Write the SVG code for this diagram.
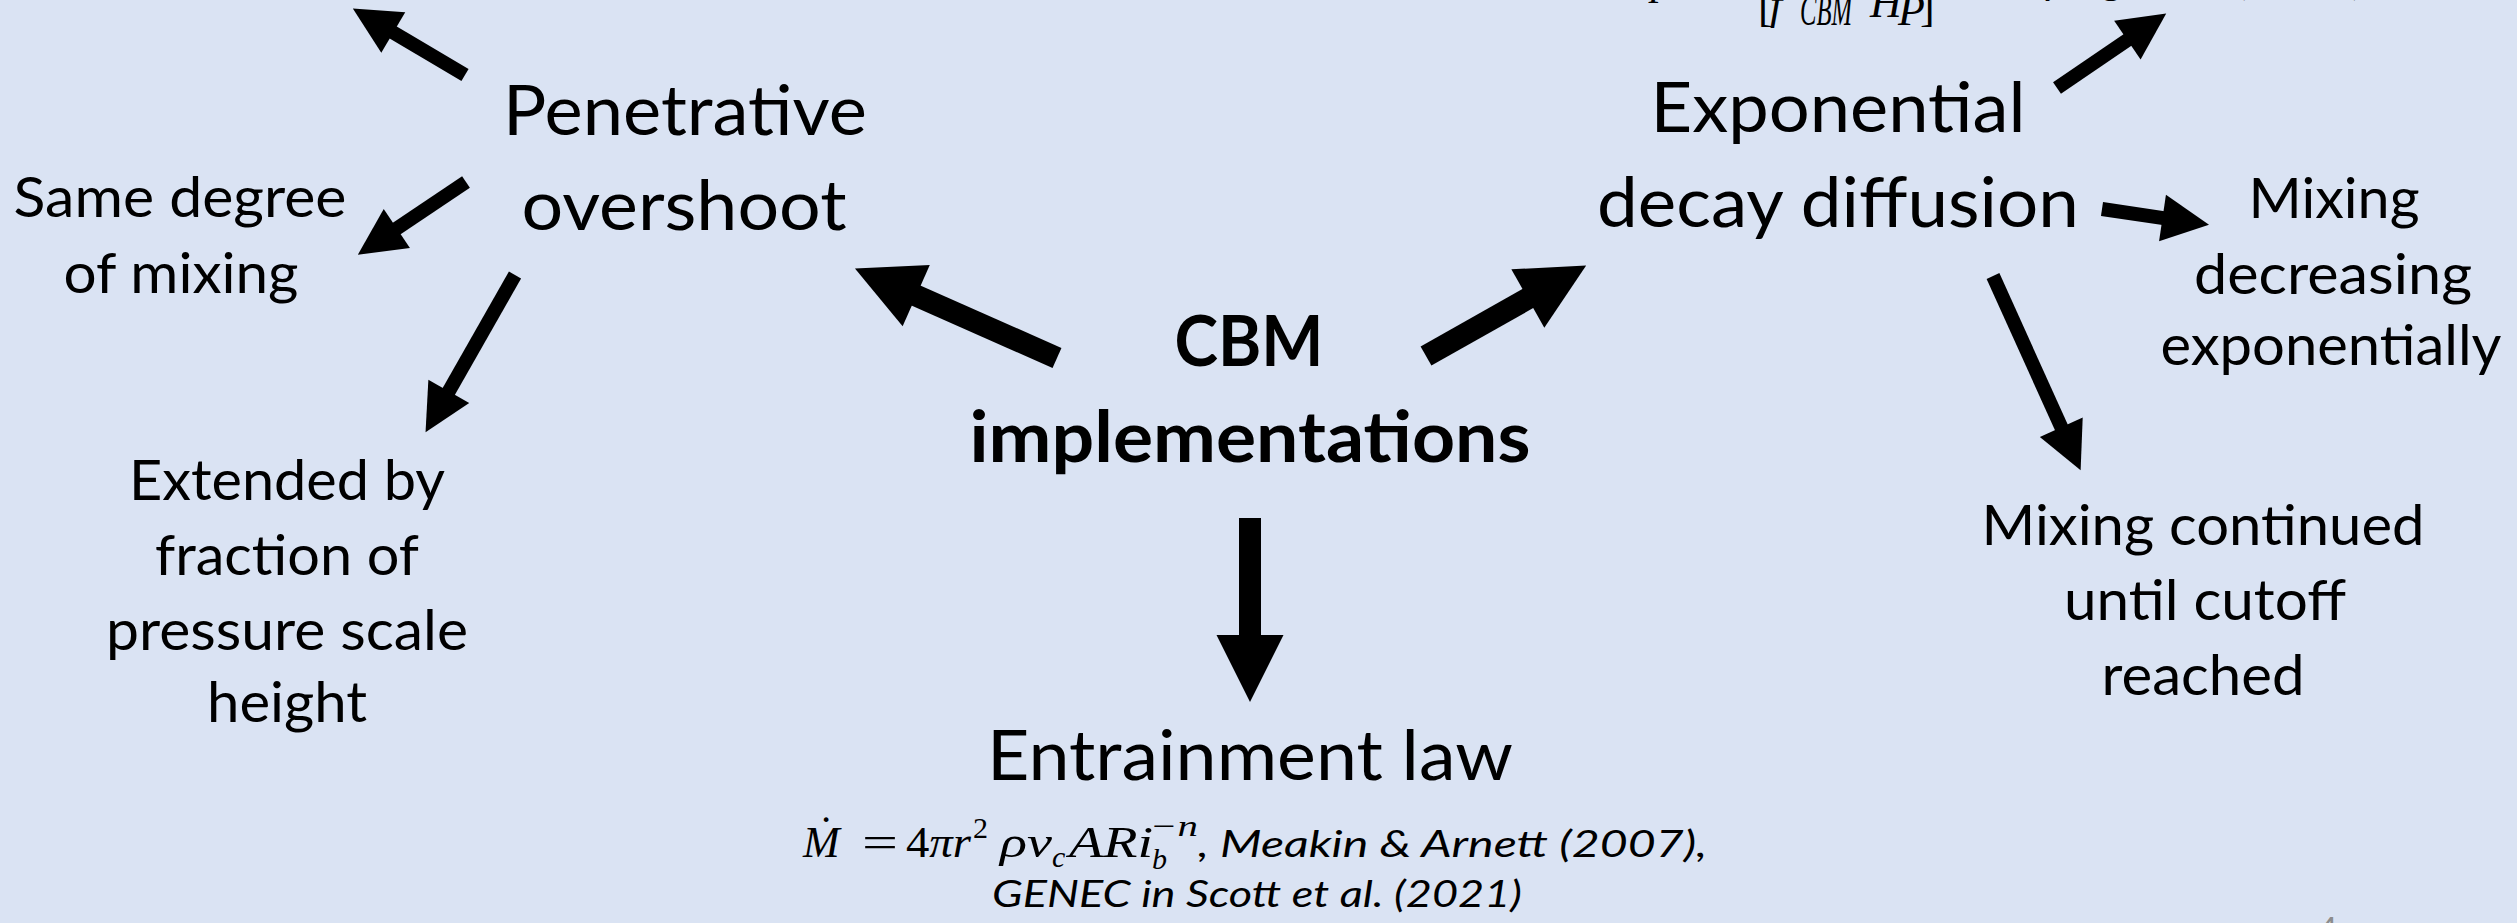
<svg xmlns="http://www.w3.org/2000/svg" width="2517" height="923" viewBox="0 0 2517 923">
<style>
  .big { font-family: Lato, "Open Sans", sans-serif; font-size: 70px; fill: #000; text-anchor: middle; }
  .bold { font-family: Lato, "Open Sans", sans-serif; font-size: 70px; font-weight: bold; fill: #000; text-anchor: middle; }
  .small { font-family: Lato, "Open Sans", sans-serif; font-size: 56px; fill: #000; text-anchor: middle; }
  .ref { font-family: Lato, "Open Sans", sans-serif; font-size: 37px; font-style: italic; fill: #000; }
  .math { font-family: "Liberation Serif", "DejaVu Serif", serif; font-size: 44px; fill: #000; }
  .mi { font-style: italic; }
  .sm { font-size: 30px; }
  .conn-s { stroke: #000; stroke-width: 14; fill: none; marker-end: url(#hs); }
  .conn-b { stroke: #000; stroke-width: 22; fill: none; marker-end: url(#hb); }
</style>
<defs>
  <marker id="hs" markerUnits="userSpaceOnUse" markerWidth="50" markerHeight="50" refX="1" refY="23.5" orient="auto" overflow="visible">
    <path d="M0,0 L47,23.5 L0,47 Z" fill="#000"/>
  </marker>
  <marker id="hb" markerUnits="userSpaceOnUse" markerWidth="70" markerHeight="70" refX="1" refY="33.5" orient="auto" overflow="visible">
    <path d="M0,0 L67,33.5 L0,67 Z" fill="#000"/>
  </marker>
</defs>
<rect x="0" y="0" width="2517" height="923" fill="#DAE3F3"/>

<g id="connectors">
  <line class="conn-s" x1="465" y1="75" x2="392.4" y2="32"/>
  <line class="conn-s" x1="466" y1="182" x2="396" y2="229"/>
  <line class="conn-s" x1="515" y1="275" x2="448.3" y2="392.2"/>
  <line class="conn-b" x1="1057" y1="358" x2="915.3" y2="295.2"/>
  <line class="conn-b" x1="1426" y1="356" x2="1528.7" y2="298"/>
  <line class="conn-b" x1="1250" y1="518" x2="1250" y2="636"/>
  <line class="conn-s" x1="2057" y1="88" x2="2128.2" y2="39.5"/>
  <line class="conn-s" x1="2102" y1="209" x2="2163.5" y2="218.1"/>
  <line class="conn-s" x1="1993" y1="276" x2="2061.7" y2="428.2"/>
</g>

<g id="top-formula">
  <text class="math mi" x="1612" y="-6" font-size="40">exp</text>
  <text class="math" x="1722" y="-6" font-size="40">[</text>
  <text class="ref" x="1985" y="-5" textLength="380" lengthAdjust="spacingAndGlyphs">Freytag et al. (1996)</text>
  <text class="math" x="1758" y="21" font-size="30">[</text>
  <text class="math mi" x="1770" y="19" font-size="28">f</text>
  <text class="math mi" x="1800" y="25" font-size="22" textLength="52" lengthAdjust="spacingAndGlyphs">CBM</text>
  <text class="math mi" x="1870" y="17" font-size="24">H</text>
  <text class="math mi" x="1898" y="25" font-size="22">P</text>
  <text class="math" x="1920" y="21" font-size="30">]</text>
</g>

<g id="node-cbm">
  <text class="bold" x="1249" y="366" textLength="149" lengthAdjust="spacingAndGlyphs">CBM</text>
  <text class="bold" x="1250" y="462" textLength="561" lengthAdjust="spacingAndGlyphs">implementations</text>
</g>

<g id="node-penetrative">
  <text class="big" x="685" y="135" textLength="364" lengthAdjust="spacingAndGlyphs">Penetrative</text>
  <text class="big" x="684" y="230" textLength="325" lengthAdjust="spacingAndGlyphs">overshoot</text>
</g>

<g id="node-same-degree">
  <text class="small" x="180" y="217" textLength="333" lengthAdjust="spacingAndGlyphs">Same degree</text>
  <text class="small" x="181" y="293" textLength="235" lengthAdjust="spacingAndGlyphs">of mixing</text>
</g>

<g id="node-extended">
  <text class="small" x="287" y="500" textLength="316" lengthAdjust="spacingAndGlyphs">Extended by</text>
  <text class="small" x="287" y="575" textLength="264" lengthAdjust="spacingAndGlyphs">fraction of</text>
  <text class="small" x="287" y="650" textLength="362" lengthAdjust="spacingAndGlyphs">pressure scale</text>
  <text class="small" x="287" y="722" textLength="160" lengthAdjust="spacingAndGlyphs">height</text>
</g>

<g id="node-exponential">
  <text class="big" x="1838" y="132" textLength="375" lengthAdjust="spacingAndGlyphs">Exponential</text>
  <text class="big" x="1838" y="227" textLength="482" lengthAdjust="spacingAndGlyphs">decay diffusion</text>
</g>

<g id="node-mixing-decreasing">
  <text class="small" x="2334" y="218" textLength="171" lengthAdjust="spacingAndGlyphs">Mixing</text>
  <text class="small" x="2333" y="294" textLength="278" lengthAdjust="spacingAndGlyphs">decreasing</text>
  <text class="small" x="2331" y="365" textLength="341" lengthAdjust="spacingAndGlyphs">exponentially</text>
</g>

<g id="node-mixing-continued">
  <text class="small" x="2203" y="545" textLength="443" lengthAdjust="spacingAndGlyphs">Mixing continued</text>
  <text class="small" x="2205" y="620" textLength="282" lengthAdjust="spacingAndGlyphs">until cutoff</text>
  <text class="small" x="2203" y="695" textLength="203" lengthAdjust="spacingAndGlyphs">reached</text>
</g>

<g id="node-entrainment">
  <text class="big" x="1250" y="780" textLength="526" lengthAdjust="spacingAndGlyphs">Entrainment law</text>
  <text class="math mi" x="803" y="857">M<tspan dx="-21" dy="-10" font-style="normal">˙</tspan></text>
  <text class="math" x="862" y="857" textLength="36" lengthAdjust="spacingAndGlyphs">=</text>
  <text class="math" x="906" y="857" textLength="65" lengthAdjust="spacingAndGlyphs">4<tspan class="mi">πr</tspan></text>
  <text class="math sm" x="973" y="838">2</text>
  <text class="math mi" x="1000" y="857" textLength="52" lengthAdjust="spacingAndGlyphs">ρv</text>
  <text class="math mi sm" x="1052" y="867">c</text>
  <text class="math mi" x="1069" y="857" textLength="84" lengthAdjust="spacingAndGlyphs">ARi</text>
  <text class="math mi sm" x="1152" y="869">b</text>
  <text class="math mi sm" x="1150" y="836" textLength="48" lengthAdjust="spacingAndGlyphs">−n</text>
  <text class="ref" x="1198" y="857" textLength="509" lengthAdjust="spacingAndGlyphs">, Meakin &amp; Arnett (2007),</text>
  <text class="ref" x="992" y="907" textLength="530" lengthAdjust="spacingAndGlyphs">GENEC in Scott et al. (2021)</text>
</g>

<text x="2318" y="942" font-family="Lato, sans-serif" font-size="34" fill="#8C8C8C">4</text>
</svg>
